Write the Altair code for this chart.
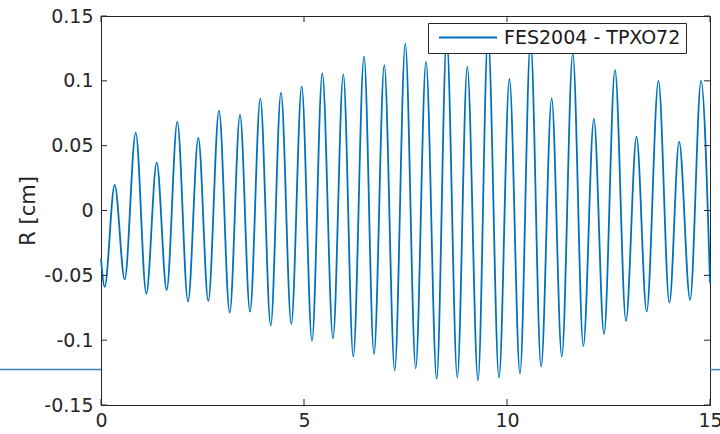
import altair as alt
import pandas as pd

# Extrema (time [days], R [cm])
t_ext = [0.0, 0.09, 0.337, 0.584, 0.855, 1.116, 1.372, 1.618, 1.879, 2.143,
         2.397, 2.643, 2.906, 3.170, 3.424, 3.670, 3.924, 4.180, 4.433, 4.687,
         4.943, 5.197, 5.451, 5.714, 5.968, 6.214, 6.478, 6.724, 6.978, 7.234,
         7.495, 7.751, 8.005, 8.268, 8.515, 8.776, 9.022, 9.286, 9.532, 9.803,
         10.06, 10.32, 10.58, 10.84, 11.10, 11.35, 11.62, 11.88, 12.14, 12.39,
         12.66, 12.93, 13.19, 13.44, 13.73, 14.00, 14.24, 14.51, 14.78, 15.0]
r_ext = [-0.037, -0.0588, 0.0197, -0.0531, 0.060, -0.0642, 0.0369, -0.0613, 0.0683, -0.0703,
         0.0559, -0.0698, 0.077, -0.0788, 0.0739, -0.078, 0.0863, -0.0888, 0.0909, -0.0875,
         0.0957, -0.1006, 0.106, -0.0986, 0.105, -0.1127, 0.1189, -0.1107, 0.112, -0.1233,
         0.1287, -0.1217, 0.1148, -0.1299, 0.133, -0.1289, 0.1109, -0.131, 0.135, -0.1289,
         0.1014, -0.1256, 0.131, -0.1205, 0.0865, -0.1127, 0.1212, -0.1045, 0.0706, -0.0952,
         0.1084, -0.0852, 0.0569, -0.078, 0.0999, -0.0711, 0.0531, -0.069, 0.0999, -0.056]
series_name = "FES2004 - TPXO72"

x_ticks = [0, 5, 10, 15]
y_ticks = [-0.15, -0.1, -0.05, 0, 0.05, 0.1, 0.15]
stray_line_value = -0.1227

W, H = 609, 389
FONT = "DejaVu Sans"
AX = "#262626"
BLUE = "#0072BD"

df = pd.DataFrame({"t": t_ext, "r": r_ext, "series": [series_name] * len(t_ext)})
xt = pd.DataFrame({"x": x_ticks})
yt = pd.DataFrame({"y": y_ticks})

xscale = alt.Scale(domain=[0, 15], nice=False, zero=False)
yscale = alt.Scale(domain=[-0.15, 0.15], nice=False, zero=False)

line = alt.Chart(df).mark_line(interpolate="monotone", strokeWidth=1.8).encode(
    x=alt.X("t:Q", scale=xscale,
            axis=alt.Axis(values=x_ticks, title=None, labelExpr="toString(datum.value)",
                          labelPadding=6, labelFlush=False)),
    y=alt.Y("r:Q", scale=yscale,
            axis=alt.Axis(values=y_ticks, title="R [cm]", labelExpr="toString(datum.value)",
                          labelPadding=8, titlePadding=5, labelFlush=False)),
    color=alt.Color("series:N", scale=alt.Scale(range=[BLUE]),
                    legend=alt.Legend(orient="none", legendX=327, legendY=7, title=None,
                                      symbolType="stroke", symbolStrokeWidth=1.8,
                                      symbolSize=3364, clipHeight=19, labelLimit=0,
                                      labelFontSize=19, labelFont=FONT,
                                      labelColor="#1a1a1a", fillColor="white",
                                      strokeColor=AX, padding=5, symbolOffset=5,
                                      labelOffset=6)),
    order=alt.Order("t:Q"),
)

tick_bottom = alt.Chart(xt).mark_rule(color=AX, strokeWidth=1).encode(
    x=alt.X("x:Q", scale=xscale), y=alt.value(H), y2=alt.value(H - 6))
tick_top = alt.Chart(xt).mark_rule(color=AX, strokeWidth=1).encode(
    x=alt.X("x:Q", scale=xscale), y=alt.value(0), y2=alt.value(6))
tick_left = alt.Chart(yt).mark_rule(color=AX, strokeWidth=1).encode(
    y=alt.Y("y:Q", scale=yscale), x=alt.value(0), x2=alt.value(6))
tick_right = alt.Chart(yt).mark_rule(color=AX, strokeWidth=1).encode(
    y=alt.Y("y:Q", scale=yscale), x=alt.value(W), x2=alt.value(W - 6))

stray_left = alt.Chart(pd.DataFrame({"v": [stray_line_value]})).mark_rule(
    color="#3d80c2", strokeWidth=1.5).encode(
    y=alt.Y("v:Q", scale=yscale), x=alt.value(-101), x2=alt.value(0))
stray_right = alt.Chart(pd.DataFrame({"v": [stray_line_value]})).mark_rule(
    color="#3d80c2", strokeWidth=1.5).encode(
    y=alt.Y("v:Q", scale=yscale), x=alt.value(W), x2=alt.value(W + 11))

chart = alt.layer(stray_left, stray_right, line, tick_bottom, tick_top, tick_left, tick_right).properties(
    width=W, height=H,
    autosize=alt.AutoSizeParams(type="none"),
    padding={"left": 101, "top": 16, "right": 10, "bottom": 29},
    background="white",
).configure_view(stroke=AX, strokeWidth=1).configure_axis(
    grid=False, ticks=False, domainColor=AX, domainWidth=1,
    labelFont=FONT, labelFontSize=19, labelColor=AX,
    titleFont=FONT, titleFontSize=21, titleFontWeight="normal", titleColor=AX,
)

chart.save("out.html", embed_options={"renderer": "svg", "actions": False})
